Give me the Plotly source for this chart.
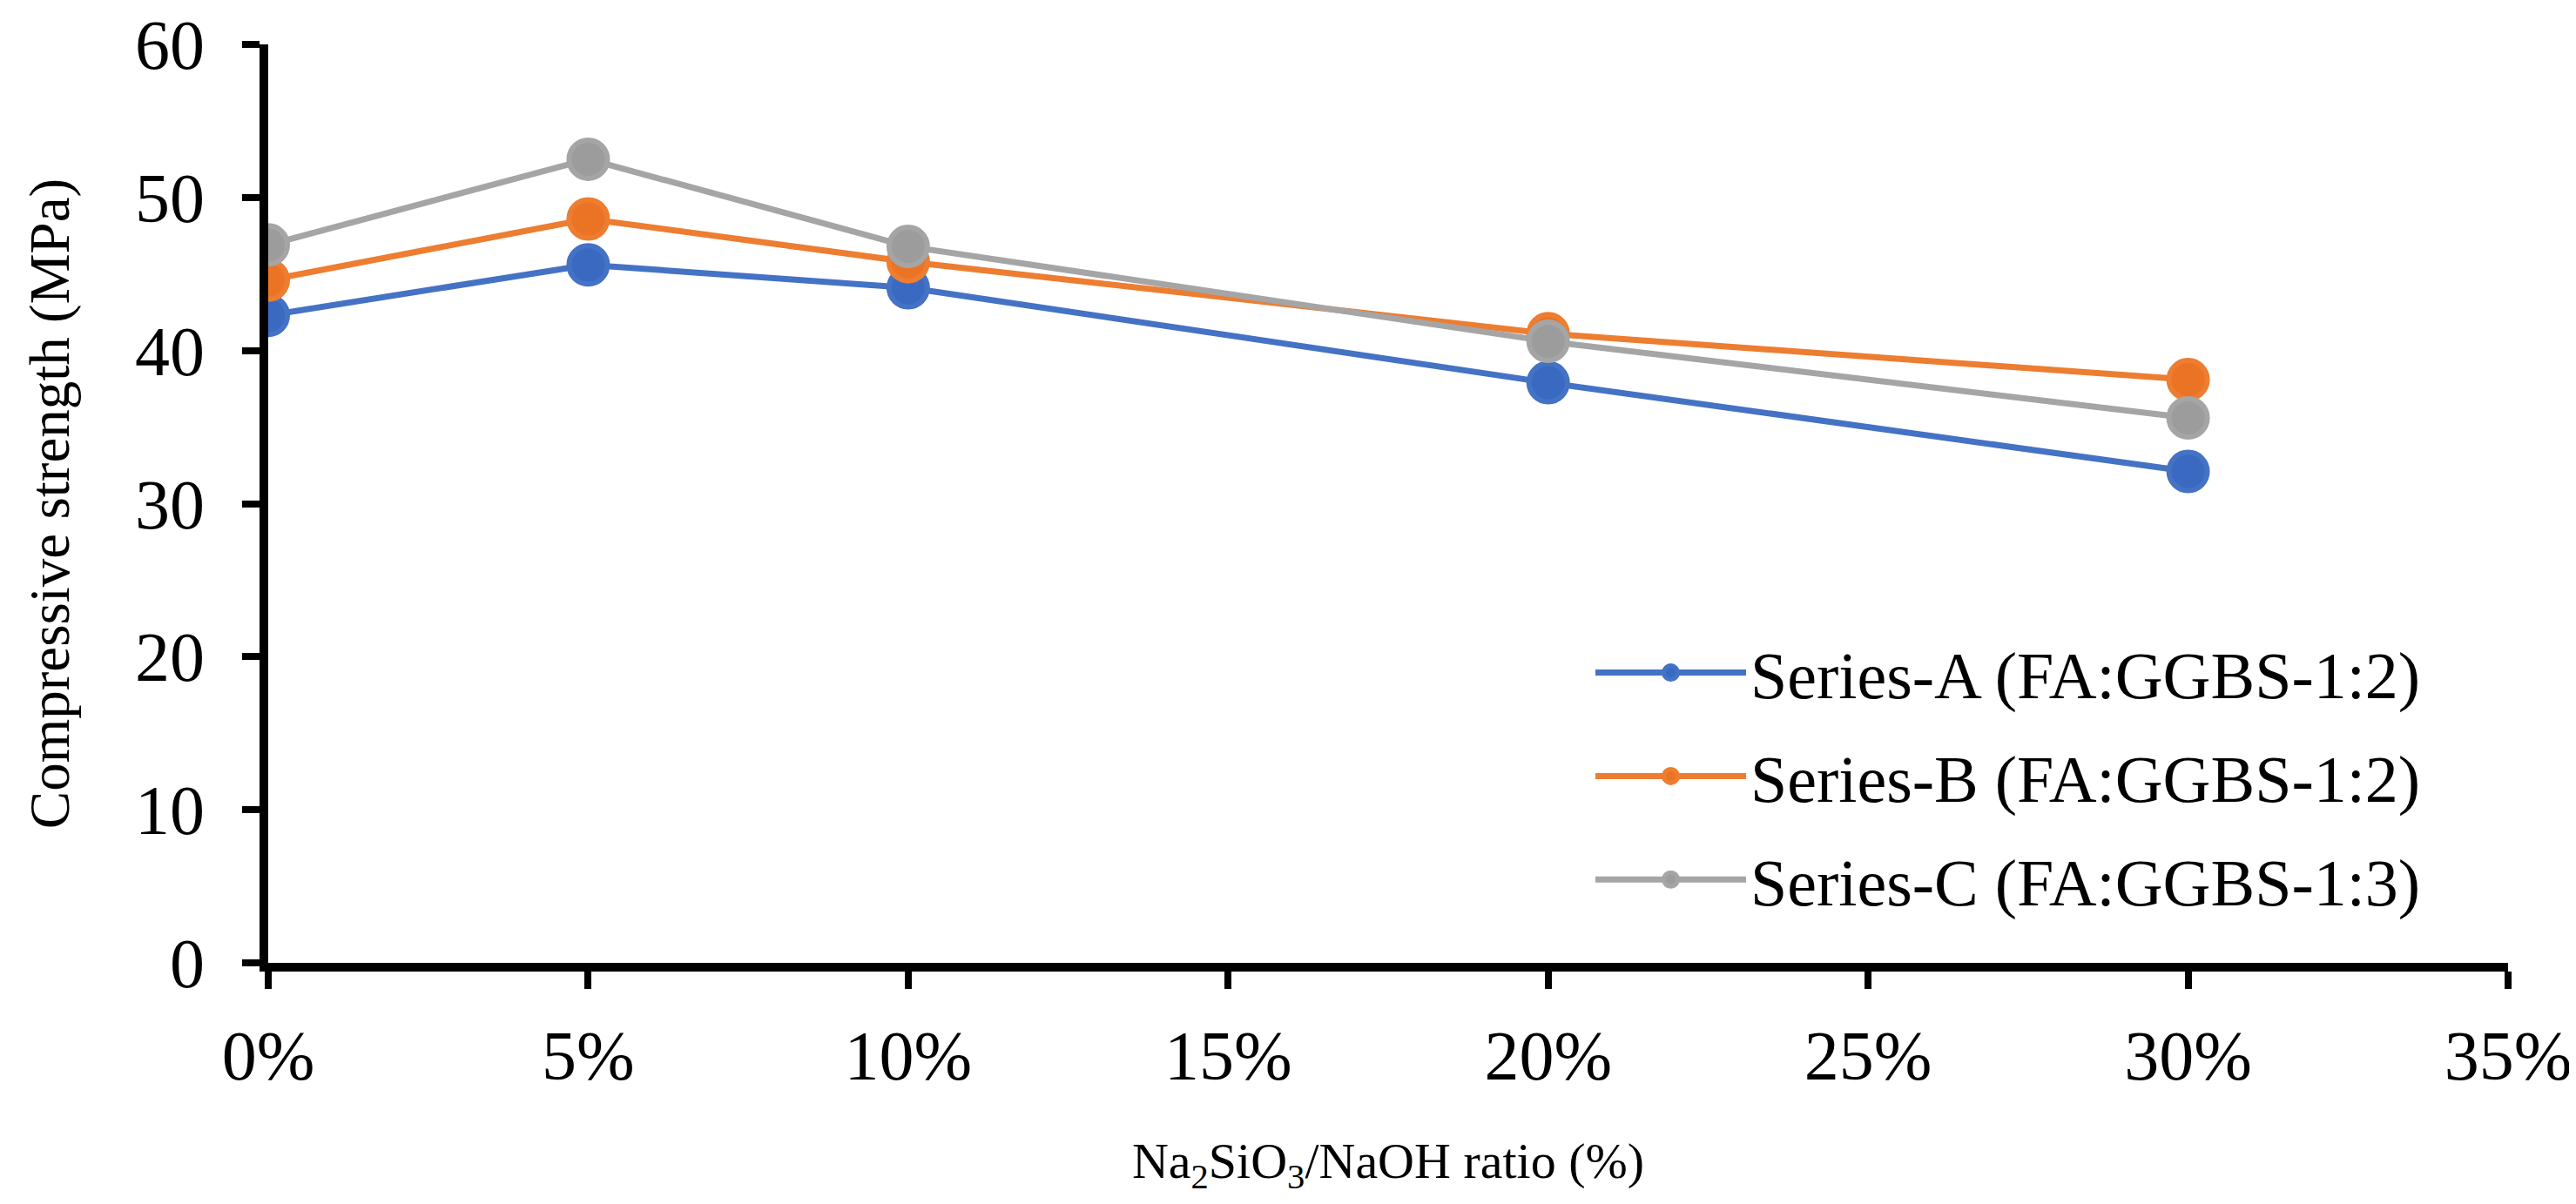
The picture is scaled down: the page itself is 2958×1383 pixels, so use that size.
import plotly.graph_objects as go

ratio = [0.0, 0.05, 0.10, 0.20, 0.30]
series_a = [42.3, 45.6, 44.1, 37.9, 32.1]
series_b = [44.6, 48.6, 45.8, 41.1, 38.1]
series_c = [46.9, 52.5, 46.8, 40.6, 35.6]
names = ["Series-A (FA:GGBS-1:2)", "Series-B (FA:GGBS-1:2)", "Series-C (FA:GGBS-1:3)"]
colors = ["#4472C4", "#ED7D31", "#A5A5A5"]
fill_colors = ["#3A69C2", "#EA7424", "#9C9C9C"]

FONT = "Liberation Serif, Times New Roman, serif"

fig = go.Figure()
for i, (vals, name) in enumerate(zip([series_a, series_b, series_c], names)):
    fig.add_trace(go.Scatter(
        x=ratio, y=vals, name=name, mode="lines+markers",
        legendgroup=f"g{i}",
        line=dict(color=colors[i], width=7),
        marker=dict(size=44, color=fill_colors[i], line=dict(color=colors[i], width=6)),
    ))

fig.update_layout(
    template="none",
    width=2958, height=1383,
    paper_bgcolor="white", plot_bgcolor="white",
    margin=dict(l=300, r=86, t=43, b=285),
    font=dict(family=FONT, size=76, color="black"),
    showlegend=True,
    legend=dict(
        x=0.5906, y=0.369, xanchor="left", yanchor="top",
        bgcolor="rgba(0,0,0,0)", font=dict(size=76, family=FONT, color="black"),
        tracegroupgap=17, itemwidth=173, itemsizing="trace",
    ),
    xaxis=dict(
        range=[0, 0.35], dtick=0.05, tick0=0, tickformat=".0%",
        showgrid=False, zeroline=False, automargin=False,
        showline=True, linecolor="black", linewidth=10,
        ticks="outside", ticklen=20, tickwidth=8, tickcolor="black",
        ticklabelstandoff=8, ticklabeloverflow="allow",
        title=dict(text="Na<sub>2</sub>SiO<sub>3</sub>/NaOH ratio (%)", standoff=60,
                   font=dict(size=58, family=FONT, color="black")),
        tickfont=dict(size=80, family=FONT, color="black"),
    ),
    yaxis=dict(
        range=[0, 60], dtick=10,
        showgrid=False, zeroline=False, automargin=False,
        showline=True, linecolor="black", linewidth=10,
        ticks="outside", ticklen=20, tickwidth=8, tickcolor="black",
        ticklabelstandoff=27, ticklabeloverflow="allow",
        title=dict(text="Compressive strength (MPa)", standoff=58,
                   font=dict(size=65, family=FONT, color="black")),
        tickfont=dict(size=80, family=FONT, color="black"),
    ),
)

fig.write_html("out.html")
